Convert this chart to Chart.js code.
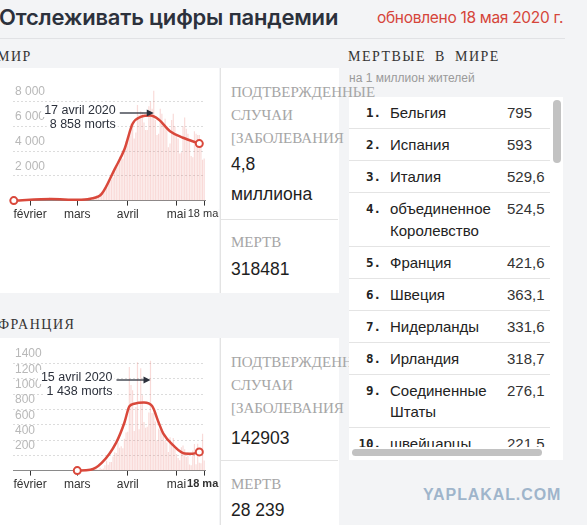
<!DOCTYPE html>
<html lang="ru">
<head>
<meta charset="utf-8">
<title>Отслеживать цифры пандемии</title>
<script src="https://cdn.jsdelivr.net/npm/chart.js@4.4.1/dist/chart.umd.min.js"></script>
<style>
  html, body { margin: 0; padding: 0; }
  body { width: 587px; height: 525px; overflow: hidden; position: relative; background: #f3f4f6;
         font-family: "Liberation Sans", Arial, sans-serif; color: #222; }
  .abs { position: absolute; white-space: nowrap; }
  #title { left: -1px; top: 4px; font: 600 22px Inter, sans-serif; color: #2c313c; letter-spacing: -0.2px; }
  #updated { left: 377px; top: 8px; font: 400 15.5px Inter, sans-serif; color: #d6453a; letter-spacing: -0.3px; }
  #rule { left: 0; top: 38px; width: 565px; height: 1px; background: #e1e2e5; }
  .kicker { font: 14px/16px "Liberation Serif", serif; color: #333; letter-spacing: 1.5px; word-spacing: 4px; }
  .sub { font: 12px/14px "Liberation Sans", sans-serif; color: #9a9a9a; }
  .panel { position: absolute; background: #fff; overflow: hidden; }
  .stats { position: absolute; background: #fff; border-left: 1px solid #e3e3e3; }
  .lbl { font: 15px/23px "Liberation Serif", serif; color: #a6a6a6; }
  .num { font: 17.5px/30px "Liberation Sans", sans-serif; color: #1e1e1e; }
  .hr { height: 1px; background: #e3e3e3; }
  #rank { left: 349px; top: 97px; width: 214px; height: 363px; background: #fff; z-index: 2; white-space: normal; }
  #rows { position: absolute; left: 0; top: 0; width: 201px; height: 350px; overflow: hidden; }
  .row { position: relative; border-bottom: 1px solid #e4e4e4; padding: 5px 0 4.5px 0; line-height: 21.5px; }
  .row .n { position: absolute; left: 0; top: 5px; width: 32px; text-align: right; line-height: 21.5px;
            font: 600 12.5px/21.5px "DejaVu Sans Mono", monospace; color: #222; }
  .row .name { margin-left: 41px; width: 112px; font-size: 15px; color: #222; }
  .row .v { position: absolute; left: 158px; top: 5px; font-size: 15px; color: #333; }
  .thumb { position: absolute; background: #c2c2c2; border-radius: 4px; }
  #wm { left: 423px; top: 486px; font: bold 16px "Liberation Sans", sans-serif; color: #9fb5cb; letter-spacing: 0.9px; }
  canvas { position: absolute; left: 0; top: 0; }
</style>
</head>
<body>
<div class="abs" id="title">Отслеживать цифры пандемии</div>
<div class="abs" id="updated">обновлено 18 мая 2020 г.</div>
<div class="abs" id="rule"></div>

<div class="abs kicker" style="left:-3px; top:49px;">МИР</div>
<div class="panel" style="left:0; top:68px; width:219px; height:225px;">
  <canvas id="worldChart" width="240" height="160" style="width:240px;height:160px;"></canvas>
</div>
<div class="stats" style="left:220px; top:68px; width:118px; height:225px;"></div>
<div class="abs lbl" style="left:231px; top:81px;">ПОДТВЕРЖДЕННЫЕ<br>СЛУЧАИ<br>[ЗАБОЛЕВАНИЯ</div>
<div class="abs num" style="left:231px; top:149px;">4,8<br>миллиона</div>
<div class="abs hr" style="left:221px; top:219px; width:117px;"></div>
<div class="abs lbl" style="left:231px; top:231px;">МЕРТВ</div>
<div class="abs num" style="left:231px; top:254px;">318481</div>

<div class="abs kicker" style="left:-2px; top:317px;">ФРАНЦИЯ</div>
<div class="panel" style="left:0; top:338px; width:219px; height:187px;">
  <canvas id="franceChart" width="240" height="160" style="width:240px;height:160px;"></canvas>
</div>
<div class="stats" style="left:220px; top:338px; width:118px; height:187px;"></div>
<div class="abs lbl" style="left:231px; top:351px;">ПОДТВЕРЖДЕННЫЕ<br>СЛУЧАИ<br>[ЗАБОЛЕВАНИЯ</div>
<div class="abs num" style="left:231px; top:423px;">142903</div>
<div class="abs hr" style="left:221px; top:460px; width:117px;"></div>
<div class="abs lbl" style="left:231px; top:473px;">МЕРТВ</div>
<div class="abs num" style="left:231px; top:495px;">28 239</div>

<div class="abs kicker" style="left:348px; top:49px;">МЕРТВЫЕ В МИРЕ</div>
<div class="abs sub" style="left:349px; top:71px;">на 1 миллион жителей</div>
<div class="abs" id="rank">
  <div id="rows"></div>
  <div class="thumb" style="left:204px; top:3px; width:8px; height:63px;"></div>
  <div class="thumb" style="left:3px; top:352px; width:190px; height:7px;"></div>
</div>
<div class="abs" id="wm">YAPLAKAL.COM</div>

<script>
// daily deaths, world (from 22 Jan 2020)
const worldJan = [17, 0, 8, 16, 14, 26, 49, 2, 38, 42];
const worldFeb = [46, 45, 57, 64, 66, 73, 73, 86, 89, 97, 108, 97, 254, 13, 143, 142, 106, 98, 115, 118,
                  109, 97, 150, 71, 52, 29, 44, 37, 58];
const worldMar = [67, 73, 72, 84, 80, 102, 103, 229, 202, 273, 320, 339, 432, 407, 640, 722, 862, 1030,
                  1210, 1420, 1650, 1700, 1880, 2330, 2700, 2900, 3550, 3520, 3380, 4150, 4800];
const worldApr = [5000, 5700, 6200, 6300, 5000, 5500, 7700, 6900, 7200, 7100, 6300, 5700, 5700, 7600, 8000,
                  7400, 8858, 6500, 5300, 5400, 7400, 7000, 6300, 6600, 6000, 4300, 4600, 6500, 7000, 6000];
const worldMay = [5400, 5000, 3800, 3900, 6000, 6700, 5800, 5400, 4900, 3600, 3500, 5600, 5400, 5300,
                  5300, 4500, 3300, 3400];

// daily deaths, France
const franceJan = [0, 0, 0, 0, 0, 0, 0, 0, 0, 0];
const franceFeb = [0, 0, 0, 0, 0, 0, 0, 0, 0, 0, 0, 0, 0, 0, 1, 0, 0, 0, 0, 0, 0, 0, 0, 0, 0, 1, 0, 0, 0];
const franceMar = [0, 0, 1, 0, 2, 2, 0, 3, 6, 10, 15, 13, 18, 12, 36, 21, 27, 69, 128, 78, 112, 112, 186,
                   240, 231, 365, 299, 319, 292, 418, 499];
const franceApr = [509, 1355, 1120, 1053, 518, 833, 1417, 541, 1341, 987, 635, 561, 574, 762, 1438, 753,
                   761, 642, 395, 547, 531, 544, 516, 389, 369, 242, 437, 367, 427, 289];
const franceMay = [218, 166, 135, 306, 330, 278, 178, 243, 80, 70, 263, 348, 83, 351, 104, 96, 483, 131];

// smoothed trend
const worldTrendDates = ['2020-01-22', '2020-02-14', '2020-03-01', '2020-03-09', '2020-03-16', '2020-03-24',
  '2020-03-30', '2020-04-04', '2020-04-09', '2020-04-15', '2020-04-20', '2020-04-27', '2020-05-05', '2020-05-15'];
const worldTrendValues = [0, 130, 60, 150, 540, 2540, 4140, 6200, 6750, 6860, 6540, 5600, 5070, 4600];
const franceTrendDates = ['2020-03-01', '2020-03-09', '2020-03-16', '2020-03-25', '2020-03-30', '2020-04-02',
  '2020-04-05', '2020-04-11', '2020-04-16', '2020-04-20', '2020-04-23', '2020-04-29', '2020-05-06',
  '2020-05-11', '2020-05-15'];
const franceTrendValues = [0, 10, 100, 370, 630, 840, 875, 890, 845, 630, 480, 330, 225, 222, 245];

// axis ticks
const tickDays = ['2020-02-01', '2020-03-01', '2020-04-01', '2020-05-01', '2020-05-18'];
const tickNames = ['février', 'mars', 'avril', 'mai', '18 mai'];
const monthsFr = ['janvier', 'février', 'mars', 'avril', 'mai'];
const worldYTicks = [2000, 4000, 6000, 8000];
const franceYTicks = [200, 400, 600, 800, 1000, 1200, 1400];

// ranking table
const rankCountries = ['Бельгия', 'Испания', 'Италия', 'объединенное Королевство', 'Франция', 'Швеция',
  'Нидерланды', 'Ирландия', 'Соединенные Штаты', 'швейцарцы'];
const rankValues = ['795', '593', '529,6', '524,5', '421,6', '363,1', '331,6', '318,7', '276,1', '221,5'];

const worldDaily = [...worldJan, ...worldFeb, ...worldMar, ...worldApr, ...worldMay];
const franceDaily = [...franceJan, ...franceFeb, ...franceMar, ...franceApr, ...franceMay];
const firstDay = Date.UTC(2020, 0, 22);
const days = worldDaily.map((_, i) => new Date(firstDay + i * 864e5).toISOString().slice(0, 10));

const rows = document.getElementById('rows');
rankCountries.forEach((c, i) => {
  const r = document.createElement('div');
  r.className = 'row';
  r.innerHTML = '<span class="n">' + (i + 1) + '.</span><div class="name">' + c + '</div><span class="v">' + rankValues[i] + '</span>';
  rows.appendChild(r);
});

const spaced = v => String(v).replace(/\B(?=(\d{3})+(?!\d))/g, ' ');

function trendSeries(dates, values) {
  const out = days.map(() => null);
  dates.forEach((d, i) => { out[days.indexOf(d)] = values[i]; });
  return out;
}

const peakNote = {
  id: 'peakNote',
  afterDatasetsDraw(chart, args, opts) {
    const {ctx, chartArea, scales} = chart;
    const xEnd = scales.x.getPixelForValue(opts.index);
    const y = chartArea.top + 24;
    const xt = xEnd - 38;
    const lines = opts.lines;
    ctx.save();
    ctx.font = '12.5px "Liberation Sans", sans-serif';
    ctx.textAlign = 'right';
    ctx.textBaseline = 'middle';
    ctx.fillStyle = '#fff';
    const w0 = ctx.measureText(lines[0]).width, w1 = ctx.measureText(lines[1]).width;
    ctx.fillRect(xt - w0 - 3, y - 10, w0 + 5, 14);
    ctx.fillRect(xt - w1 - 3, y + 4, w1 + 5, 14);
    ctx.fillStyle = '#2c313c';
    ctx.fillText(lines[0], xt, y - 2.5);
    ctx.fillText(lines[1], xt, y + 11.5);
    ctx.strokeStyle = '#2c313c';
    ctx.lineWidth = 1.3;
    ctx.beginPath();
    ctx.moveTo(xt + 4, y);
    ctx.lineTo(xEnd - 5, y);
    ctx.stroke();
    ctx.beginPath();
    ctx.moveTo(xEnd, y);
    ctx.lineTo(xEnd - 7, y - 3.5);
    ctx.lineTo(xEnd - 7, y + 3.5);
    ctx.closePath();
    ctx.fill();
    ctx.restore();
  }
};

function makeChart(id, daily, trendDates, trendValues, yMax, yTicks, yFmt, boldLast, pad) {
  const trend = trendSeries(trendDates, trendValues);
  const firstIdx = trend.findIndex(v => v !== null);
  const lastIdx = trend.length - 1 - [...trend].reverse().findIndex(v => v !== null);
  const peak = daily.indexOf(Math.max(...daily));
  const pd = days[peak].split('-');
  return new Chart(document.getElementById(id), {
    type: 'bar',
    data: {
      labels: days,
      datasets: [
        {
          type: 'line',
          data: trend,
          order: 1,
          spanGaps: true,
          cubicInterpolationMode: 'monotone',
          borderColor: '#d9483b',
          borderWidth: 2.5,
          pointRadius: ctx => (ctx.dataIndex === firstIdx || ctx.dataIndex === lastIdx) ? 3.5 : 0,
          pointBackgroundColor: '#fff',
          pointBorderColor: '#d9483b',
          pointBorderWidth: 2,
          clip: false
        },
        {
          data: daily,
          order: 2,
          backgroundColor: 'rgba(231, 120, 110, 0.27)',
          barPercentage: 0.9,
          categoryPercentage: 0.8
        }
      ]
    },
    options: {
      responsive: false,
      animation: false,
      events: [],
      layout: { padding: pad },
      plugins: {
        legend: { display: false },
        tooltip: { enabled: false },
        peakNote: {
          index: peak,
          lines: [Number(pd[2]) + ' ' + monthsFr[Number(pd[1]) - 1] + ' ' + pd[0], spaced(daily[peak]) + ' morts']
        }
      },
      scales: {
        x: {
          offset: true,
          grid: { display: true, drawOnChartArea: false, drawTicks: true, tickLength: 5, tickColor: '#333', offset: false },
          border: { display: true, color: '#8a8a8a', width: 1 },
          ticks: {
            autoSkip: false,
            maxRotation: 0,
            minRotation: 0,
            padding: 2,
            color: '#333',
            font: ctx => {
              const last = ctx.tick && ctx.tick.label === '18 mai';
              return { family: '"Liberation Sans", sans-serif', size: last ? 11 : 12,
                       weight: (boldLast && last) ? 'bold' : 'normal' };
            },
            callback: (value, index) => {
              const k = tickDays.indexOf(days[index]);
              return k < 0 ? null : tickNames[k];
            }
          }
        },
        y: {
          min: 0,
          max: yMax,
          afterBuildTicks: axis => { axis.ticks = yTicks.map(v => ({ value: v })); },
          grid: { color: '#dcdcdc', drawTicks: false },
          border: { display: false, dash: [2, 2] },
          ticks: {
            mirror: true,
            padding: 2,
            labelOffset: -9.5,
            color: '#b8b8b8',
            font: { family: '"Liberation Sans", sans-serif', size: 12 },
            callback: v => yFmt(v)
          }
        }
      }
    },
    plugins: [peakNote]
  });
}

makeChart('worldChart', worldDaily, worldTrendDates, worldTrendValues, 9000, worldYTicks, spaced, false,
  { left: 9, right: 35, top: 21, bottom: 4 });
makeChart('franceChart', franceDaily, franceTrendDates, franceTrendValues, 1500, franceYTicks, v => String(v), true,
  { left: 9, right: 35, top: 18, bottom: 4 });
</script>
</body>
</html>
